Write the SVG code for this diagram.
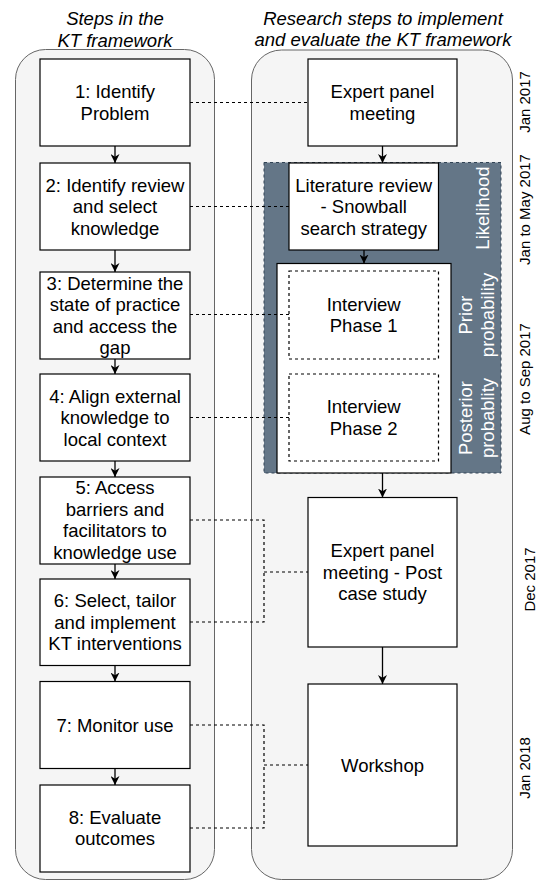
<svg xmlns="http://www.w3.org/2000/svg" width="542" height="881" viewBox="0 0 542 881">
<style>
text{font-family:"Liberation Sans",Arial,Helvetica,sans-serif;font-size:18.5px;fill:#000;text-anchor:middle}
.title{font-style:italic}
.date{font-size:15px}
.lane{fill:#f5f5f5;stroke:#666666;stroke-width:1}
.box{fill:#ffffff;stroke:#000;stroke-width:1.2}
.dbox{fill:#ffffff;stroke:#000;stroke-width:1.2;stroke-dasharray:3,3}
.dark{fill:#647687;stroke:#314354;stroke-width:1;stroke-dasharray:3,3}
.wt{fill:#ffffff}
.arrow{fill:none;stroke:#000;stroke-width:1.3;marker-end:url(#arr)}
.dash{fill:none;stroke:#000;stroke-width:1.2;stroke-dasharray:3,3}
</style>
<defs>
<marker id="arr" viewBox="0 0 10 10" refX="10" refY="5" markerWidth="9" markerHeight="9" markerUnits="userSpaceOnUse" orient="auto">
<path d="M0,0 L10,5 L0,10 L3,5 Z" fill="#000"/>
</marker>
</defs>

<g id="lane-left">
<rect class="lane" x="15.5" y="49.5" width="199" height="830" rx="30" ry="30"/>
<text class="title" x="115" y="25.3">Steps in the</text>
<text class="title" x="115" y="46.7">KT framework</text>
</g>
<g id="lane-right">
<rect class="lane" x="251.5" y="50" width="261" height="829.5" rx="30" ry="30"/>
<text class="title" x="383" y="25">Research steps to implement</text>
<text class="title" x="383" y="46">and evaluate the KT framework</text>
</g>

<g id="dates">
<text class="date" transform="translate(530,102) rotate(-90)">Jan 2017</text>
<text class="date" transform="translate(530,209.5) rotate(-90)">Jan to May 2017</text>
<text class="date" transform="translate(530,379) rotate(-90)">Aug to Sep 2017</text>
<text class="date" transform="translate(535,579.5) rotate(-90)">Dec 2017</text>
<text class="date" transform="translate(530,768) rotate(-90)">Jan 2018</text>
</g>

<g id="bayes-group">
<rect class="dark" x="264" y="162.5" width="237" height="310.5"/>
<text class="wt" transform="translate(489,208) rotate(-90)">Likelihood</text>
<text class="wt" transform="translate(472,315) rotate(-90)">Prior</text>
<text class="wt" transform="translate(493.5,315) rotate(-90)">probability</text>
<text class="wt" transform="translate(472,418) rotate(-90)">Posterior</text>
<text class="wt" transform="translate(493.5,418) rotate(-90)">probablity</text>
</g>

<g id="step1">
<rect class="box" x="40" y="59" width="150" height="87"/>
<text x="115" y="98.3">1: Identify</text>
<text x="115" y="119.8">Problem</text>
</g>
<g id="step2">
<rect class="box" x="40" y="163" width="150" height="87"/>
<text x="115" y="191.5">2: Identify review</text>
<text x="115" y="213">and select</text>
<text x="115" y="234.5">knowledge</text>
</g>
<g id="step3">
<rect class="box" x="40" y="272" width="150" height="87"/>
<text x="115" y="289.8">3: Determine the</text>
<text x="115" y="311.3">state of practice</text>
<text x="115" y="332.8">and access the</text>
<text x="115" y="354.3">gap</text>
</g>
<g id="step4">
<rect class="box" x="40" y="374" width="150" height="87"/>
<text x="115" y="402.5">4: Align external</text>
<text x="115" y="424">knowledge to</text>
<text x="115" y="445.5">local context</text>
</g>
<g id="step5">
<rect class="box" x="40" y="477" width="150" height="87"/>
<text x="115" y="494.3">5: Access</text>
<text x="115" y="515.8">barriers and</text>
<text x="115" y="537.3">facilitators to</text>
<text x="115" y="558.8">knowledge use</text>
</g>
<g id="step6">
<rect class="box" x="40" y="579" width="150" height="86.5"/>
<text x="115" y="607">6: Select, tailor</text>
<text x="115" y="628.5">and implement</text>
<text x="115" y="650">KT interventions</text>
</g>
<g id="step7">
<rect class="box" x="40" y="681.5" width="150" height="87"/>
<text x="115" y="731.5">7: Monitor use</text>
</g>
<g id="step8">
<rect class="box" x="40" y="785" width="150" height="87"/>
<text x="115" y="823.8">8: Evaluate</text>
<text x="115" y="845.3">outcomes</text>
</g>

<g id="expert-panel">
<rect class="box" x="308" y="59" width="149" height="87"/>
<text x="382.5" y="98.3">Expert panel</text>
<text x="382.5" y="119.8">meeting</text>
</g>
<g id="literature-review">
<rect class="box" x="289" y="163" width="149.5" height="87"/>
<text x="363.7" y="191.5">Literature review</text>
<text x="363.7" y="213">- Snowball</text>
<text x="363.7" y="234.5">search strategy</text>
</g>
<g id="interviews">
<rect class="box" x="277" y="263.5" width="174" height="209.5"/>
</g>
<g id="interview1">
<rect class="dbox" x="289" y="271" width="149.5" height="88"/>
<text x="363.7" y="310.8">Interview</text>
<text x="363.7" y="332.3">Phase 1</text>
</g>
<g id="interview2">
<rect class="dbox" x="289" y="374" width="149.5" height="87"/>
<text x="363.7" y="413.3">Interview</text>
<text x="363.7" y="434.8">Phase 2</text>
</g>
<g id="expert-post">
<rect class="box" x="308" y="497.5" width="149" height="149.5"/>
<text x="382.5" y="557">Expert panel</text>
<text x="382.5" y="578.5">meeting - Post</text>
<text x="382.5" y="600">case study</text>
</g>
<g id="workshop">
<rect class="box" x="308" y="684" width="149" height="162"/>
<text x="382.5" y="771.5">Workshop</text>
</g>

<g id="connectors">
<line class="arrow" x1="115" y1="146" x2="115" y2="163"/>
<line class="arrow" x1="115" y1="250" x2="115" y2="272"/>
<line class="arrow" x1="115" y1="359" x2="115" y2="374"/>
<line class="arrow" x1="115" y1="461" x2="115" y2="477"/>
<line class="arrow" x1="115" y1="564" x2="115" y2="579"/>
<line class="arrow" x1="115" y1="665.5" x2="115" y2="681.5"/>
<line class="arrow" x1="115" y1="768.5" x2="115" y2="785"/>
<line class="arrow" x1="382.5" y1="146" x2="382.5" y2="163"/>
<line class="arrow" x1="364" y1="250" x2="364" y2="263.5"/>
<line class="arrow" x1="382.5" y1="473" x2="382.5" y2="497.5"/>
<line class="arrow" x1="382.5" y1="647" x2="382.5" y2="684"/>
<path class="dash" d="M190,102.5 H308"/>
<path class="dash" d="M190,206.5 H289"/>
<path class="dash" d="M190,314.5 H289"/>
<path class="dash" d="M190,417.5 H289"/>
<path class="dash" d="M190,520 H264 V572 H308"/>
<path class="dash" d="M190,622 H264 V572"/>
<path class="dash" d="M190,725 H264 V765 H308"/>
<path class="dash" d="M190,828 H264 V765"/>
</g>
</svg>
